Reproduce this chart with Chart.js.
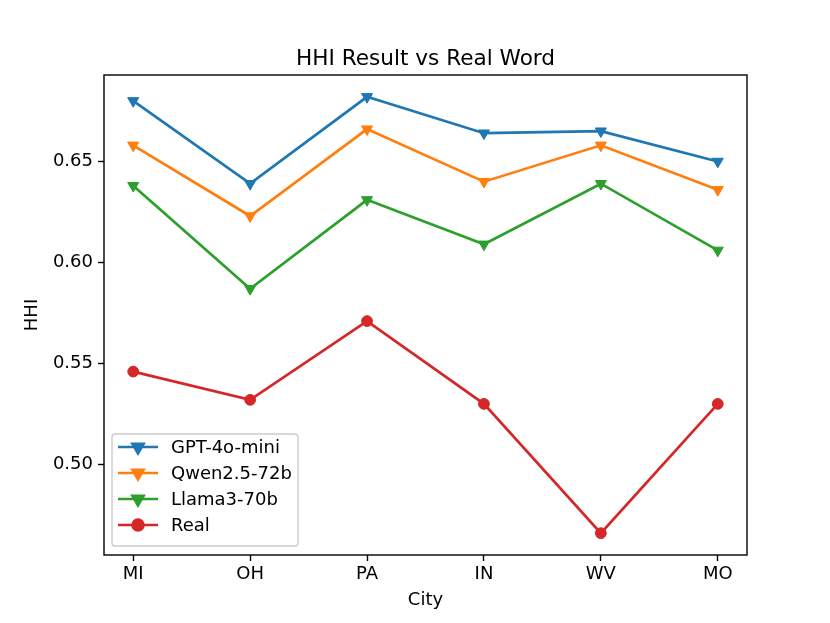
<!DOCTYPE html>
<html lang="en">
<head>
    <title>HHI Result vs Real Word</title>
    <script src="https://cdn.jsdelivr.net/npm/chart.js"></script>
    <style>
        body {
            margin: 0;
            background-color: white;
        }

        #wrap {
            width: 830px;
            height: 623px;
        }
    </style>
</head>
<body>

    <div id="wrap">
        <canvas id="hhiChart" width="830" height="623"></canvas>
    </div>

    <script>
        // data
        const cities = ['MI', 'OH', 'PA', 'IN', 'WV', 'MO'];
        const gptValues = [0.680, 0.639, 0.682, 0.664, 0.665, 0.650];
        const qwenValues = [0.658, 0.623, 0.666, 0.640, 0.658, 0.636];
        const llamaValues = [0.638, 0.587, 0.631, 0.609, 0.639, 0.606];
        const realValues = [0.546, 0.532, 0.571, 0.530, 0.466, 0.530];
        const yTicks = [0.50, 0.55, 0.60, 0.65];
        const yMin = 0.4552, yMax = 0.6928;
        const chartTitle = 'HHI Result vs Real Word';

        const FONT = 'DejaVu Sans';

        function toPoints(values) {
            return values.map((v, i) => ({ x: i, y: v }));
        }

        function makeSeries(label, values, color, style) {
            const tri = style === 'triangle';
            return {
                label: label,
                data: toPoints(values),
                borderColor: color,
                backgroundColor: color,
                borderWidth: 2.7,
                pointStyle: style,
                pointRotation: tri ? 180 : 0,
                pointRadius: tri ? 6.4 : 5.4,
                pointBorderWidth: 1,
                pointBackgroundColor: color,
                pointBorderColor: color,
                tension: 0
            };
        }

        // frame round the plot area + title centred over it (matplotlib style)
        const framePlugin = {
            id: 'frame',
            afterDatasetsDraw(chart) {
                const { ctx, chartArea: a } = chart;
                ctx.save();
                ctx.strokeStyle = 'black';
                ctx.lineWidth = 1.4;
                ctx.strokeRect(a.left, a.top, a.right - a.left, a.bottom - a.top);

                ctx.fillStyle = 'black';
                ctx.font = '21.6px ' + FONT;
                ctx.textAlign = 'center';
                ctx.textBaseline = 'alphabetic';
                ctx.fillText(chartTitle, (a.left + a.right) / 2, a.top - 10);
                ctx.restore();
            }
        };

        // legend box inside the plot, lower left
        const boxLegend = {
            id: 'boxLegend',
            afterDraw(chart) {
                const { ctx, chartArea: a } = chart;
                const x0 = a.left + 8, w = 186, h = 112;
                const y0 = a.bottom - 9 - h;
                ctx.save();
                ctx.beginPath();
                ctx.roundRect(x0, y0, w, h, 3);
                ctx.fillStyle = 'rgba(255,255,255,0.8)';
                ctx.fill();
                ctx.strokeStyle = '#cccccc';
                ctx.lineWidth = 1.4;
                ctx.stroke();

                ctx.font = '18px ' + FONT;
                ctx.textBaseline = 'middle';
                chart.data.datasets.forEach((ds, i) => {
                    const y = y0 + 13 + i * 26;
                    ctx.strokeStyle = ds.borderColor;
                    ctx.lineWidth = ds.borderWidth;
                    ctx.beginPath();
                    ctx.moveTo(x0 + 6, y);
                    ctx.lineTo(x0 + 46, y);
                    ctx.stroke();
                    ctx.fillStyle = ds.borderColor;
                    Chart.helpers.drawPoint(ctx, {
                        pointStyle: ds.pointStyle,
                        radius: ds.pointRadius,
                        rotation: ds.pointRotation,
                        borderWidth: 1
                    }, x0 + 26, y);
                    ctx.fillStyle = 'black';
                    ctx.fillText(ds.label, x0 + 59, y + 1);
                });
                ctx.restore();
            }
        };

        new Chart(document.getElementById('hhiChart').getContext('2d'), {
            type: 'line',
            data: {
                datasets: [
                    makeSeries('GPT-4o-mini', gptValues, '#1f77b4', 'triangle'),
                    makeSeries('Qwen2.5-72b', qwenValues, '#ff7f0e', 'triangle'),
                    makeSeries('Llama3-70b', llamaValues, '#2ca02c', 'triangle'),
                    makeSeries('Real', realValues, '#d62728', 'circle')
                ]
            },
            options: {
                responsive: false,
                animation: false,
                layout: { padding: { left: 0, right: 83, top: 75, bottom: 0 } },
                plugins: {
                    legend: { display: false },
                    tooltip: { enabled: false },
                    title: { display: false }
                },
                scales: {
                    x: {
                        type: 'linear',
                        min: -0.25,
                        max: 5.25,
                        afterFit: (scale) => { scale.height = 68; },
                        afterBuildTicks: (scale) => {
                            scale.ticks = cities.map((c, i) => ({ value: i }));
                        },
                        ticks: {
                            color: 'black',
                            font: { family: FONT, size: 18 },
                            padding: 3,
                            maxRotation: 0,
                            autoSkip: false,
                            callback: (v) => cities[v]
                        },
                        grid: {
                            display: true,
                            drawOnChartArea: false,
                            drawTicks: true,
                            tickLength: 6,
                            tickWidth: 1.4,
                            color: 'black'
                        },
                        border: { display: false },
                        title: {
                            display: true,
                            text: 'City',
                            color: 'black',
                            font: { family: FONT, size: 18 },
                            padding: { top: 0, bottom: 12 }
                        }
                    },
                    y: {
                        type: 'linear',
                        min: yMin,
                        max: yMax,
                        afterFit: (scale) => { scale.width = 104; },
                        afterBuildTicks: (scale) => {
                            scale.ticks = yTicks.map(v => ({ value: v }));
                        },
                        ticks: {
                            color: 'black',
                            font: { family: FONT, size: 18 },
                            padding: 5,
                            callback: (v) => v.toFixed(2)
                        },
                        grid: {
                            display: true,
                            drawOnChartArea: false,
                            drawTicks: true,
                            tickLength: 6,
                            tickWidth: 1.4,
                            color: 'black'
                        },
                        border: { display: false },
                        title: {
                            display: true,
                            text: 'HHI',
                            color: 'black',
                            font: { family: FONT, size: 18 },
                            padding: { top: 22, bottom: 0 }
                        }
                    }
                }
            },
            plugins: [framePlugin, boxLegend]
        });
    </script>

</body>
</html>
